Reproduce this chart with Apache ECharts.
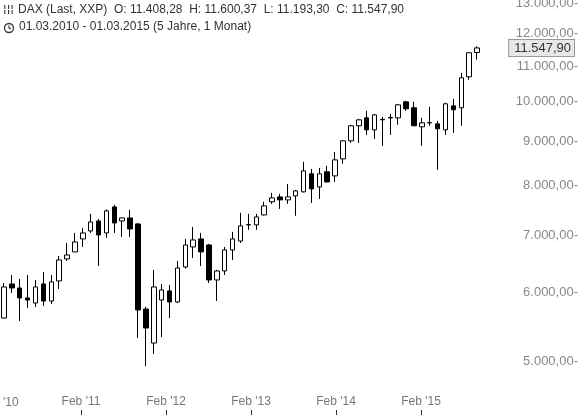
<!DOCTYPE html>
<html>
<head>
<meta charset="utf-8">
<script src="https://cdn.jsdelivr.net/npm/echarts@6/dist/echarts.min.js"></script>
<style>html,body{margin:0;padding:0;background:#fff}#main{width:582px;height:415px}</style>
</head>
<body>
<div id="main"></div>
<script>
// Monatskerzen DAX 03/2010 - 03/2015
var months = [];
var mNames = ['Jan','Feb','Mar','Apr','May','Jun','Jul','Aug','Sep','Oct','Nov','Dec'];
for (var i = 0; i < 61; i++) {
	var m = (2 + i) % 12, y = 2010 + Math.floor((2 + i) / 12);
	months.push(mNames[m] + ' ' + y);
}
var opens  = [5609,6144,6078,5918,5839,6144,5870,6193,6569,6693,6930,7080,7271,7042,7549,7271,7330,7213,5746,5246,
	5886,6030,5855,6429,6783,6930,6819,6210,6361,6729,6892,7195,7195,7389,7653,7754,7692,7775,7859,8248,
	7964,8292,8202,8584,9008,9378,9579,9277,9528,9575,9579,9998,9840,9353,9452,9427,9277,9892,9840,10691,11408.28];
var closes = [6095,6078,5918,5886,6095,5870,6177,6551,6639,6874,7042,7252,7004,7469,7232,7330,7118,5731,5461,6095,
	6046,5855,6412,6819,6911,6693,6210,6361,6729,6930,7175,7200,7350,7570,7733,7692,7754,7880,8313,7922,
	8248,8071,8561,9008,9378,9528,9277,9656,9540,9590,9918,9813,9378,9452,9460,9302,9945,9787,10662,11400,11547.90];
var lows   = [5600,5998,5564,5763,5778,5794,5823,6062,6533,6693,6783,7042,6446,6948,7042,6967,6967,5318,4932,5095,
	5331,5609,5840,6400,6586,6446,6160,5870,6293,6551,6855,7099,7099,7380,7612,7509,7612,7372,7850,7630,
	7712,8060,8071,8474,8960,8960,9153,9055,8885,9153,9404,9760,9370,8888,9378,8335,9153,9203,9378,10605,11193.30];
var highs  = [6160,6293,6227,6293,6210,6344,6293,6621,6857,7042,7138,7410,7311,7500,7590,7340,7489,7232,5780,6378,
	6144,6128,6533,6930,7156,7042,6837,6380,6783,7061,7429,7410,7410,7653,7838,7817,8027,7900,8516,8357,
	8380,8425,8746,9020,9404,9554,9760,9682,9605,9682,9945,10025,9998,9579,9866,9503,9972,10079,10806,11420,11600.37];
var yTicks = [5000,6000,7000,8000,9000,10000,11000,12000,13000];
var xTickLabels = ["Feb '11","Feb '12","Feb '13","Feb '14","Feb '15"];
var lastPrice = 11547.90;

function fmt(v) {
	var p = v.toFixed(2).split('.');
	return p[0].replace(/\B(?=(\d{3})+(?!\d))/g, '.') + ',' + p[1];
}

var candles = [];
for (var k = 0; k < months.length; k++) candles.push([opens[k], closes[k], lows[k], highs[k]]);

var tickLines = yTicks.map(function (v) {
	return { yAxis: v, label: { formatter: fmt(v) + '-' } };
});
tickLines.push({
	yAxis: lastPrice,
	label: {
		formatter: fmt(lastPrice), color: '#333', backgroundColor: '#e8e8e8',
		borderColor: '#999', borderWidth: 1, padding: [2, 3, 1, 5], distance: 93
	}
});

var myChart = echarts.init(document.getElementById('main'));
var option = {
	animation: false,
	textStyle: { fontFamily: 'Liberation Sans, Arial, sans-serif' },
	graphic: [
		{ type: 'text', left: 18, top: 4, style: { text: 'DAX (Last, XXP)  O: 11.408,28  H: 11.600,37  L: 11.193,30  C: 11.547,90', fill: '#333', font: '12px Liberation Sans' } },
		{ type: 'text', left: 3, top: 4, style: { text: '\u00a6\u00a6\u00a6', fill: '#333', font: 'bold 10px DejaVu Sans' } },
		{ type: 'circle', shape: { cx: 9, cy: 28, r: 4.5 }, style: { fill: 'none', stroke: '#333', lineWidth: 1.3 } },
		{ type: 'polyline', shape: { points: [[9, 25.5], [9, 28], [11, 29]] }, style: { fill: 'none', stroke: '#333', lineWidth: 1.2 } },
		{ type: 'text', left: 19, top: 21, style: { text: '01.03.2010 - 01.03.2015 (5 Jahre, 1 Monat)', fill: '#333', font: '12px Liberation Sans' } },
		{ type: 'text', left: 3, top: 397, style: { text: "'10", fill: '#777', font: '12px Liberation Sans' } }
	],
	grid: [
		{ left: 0, width: 481, top: 0, bottom: 25 },
		{ left: 81, width: 340, top: 300, bottom: 0 }
	],
	xAxis: [
		{ type: 'category', data: months, gridIndex: 0, show: false },
		{
			type: 'category', gridIndex: 1, data: xTickLabels, boundaryGap: false,
			axisLine: { show: false },
			axisTick: { show: true, inside: true, length: 5, alignWithLabel: true, lineStyle: { color: '#333' } },
			axisLabel: { inside: true, margin: 7, color: '#777', fontSize: 12, interval: 0 }
		}
	],
	yAxis: [
		{ type: 'log', gridIndex: 0, min: 4627, max: 13127, show: false },
		{ type: 'value', gridIndex: 1, show: false }
	],
	series: [{
		type: 'candlestick',
		data: candles,
		barWidth: 5,
		itemStyle: {
			color: '#fff', color0: '#000',
			borderColor: '#000', borderColor0: '#000', borderWidth: 1
		},
		markLine: {
			silent: true, symbol: 'none',
			lineStyle: { color: 'transparent', width: 0 },
			label: {
				show: true, position: 'end', align: 'right', distance: 97,
				color: '#888', fontSize: 13, fontFamily: 'Liberation Sans'
			},
			data: tickLines
		}
	}]
};
if (option && typeof option === "object") {
	myChart.setOption(option, true);
}
</script>
</body>
</html>
